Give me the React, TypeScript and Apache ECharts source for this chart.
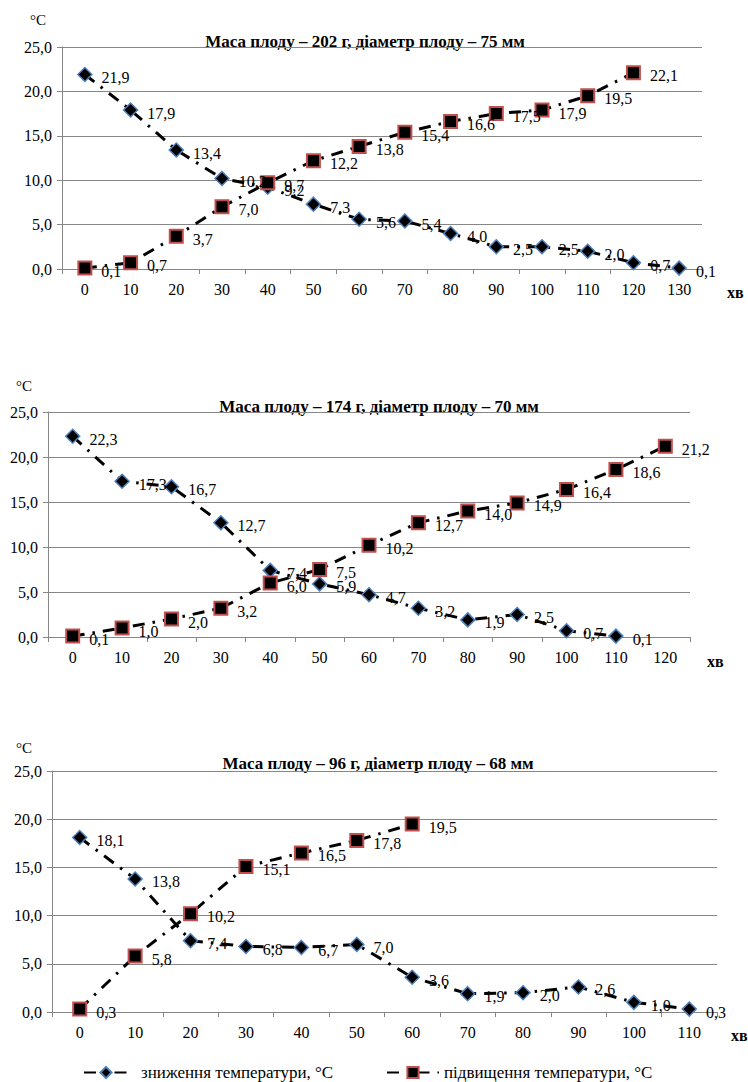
import React, { useEffect, useRef } from "react";
import * as echarts from "echarts";

const DEC = "зниження температури, °C";
const INC = "підвищення температури, °C";

const TITLES = [
  "Маса плоду – 202 г, діаметр плоду – 75 мм",
  "Маса плоду – 174 г, діаметр плоду – 70 мм",
  "Маса плоду – 96 г, діаметр плоду – 68 мм",
];

const X1 = ["0", "10", "20", "30", "40", "50", "60", "70", "80", "90", "100", "110", "120", "130"];
const DEC1 = [21.9, 17.9, 13.4, 10.2, 9.2, 7.3, 5.6, 5.4, 4.0, 2.5, 2.5, 2.0, 0.7, 0.1];
const INC1 = [0.1, 0.7, 3.7, 7.0, 9.7, 12.2, 13.8, 15.4, 16.6, 17.5, 17.9, 19.5, 22.1];

const X2 = ["0", "10", "20", "30", "40", "50", "60", "70", "80", "90", "100", "110", "120"];
const DEC2 = [22.3, 17.3, 16.7, 12.7, 7.4, 5.9, 4.7, 3.2, 1.9, 2.5, 0.7, 0.1];
const INC2 = [0.1, 1.0, 2.0, 3.2, 6.0, 7.5, 10.2, 12.7, 14.0, 14.9, 16.4, 18.6, 21.2];

const X3 = ["0", "10", "20", "30", "40", "50", "60", "70", "80", "90", "100", "110"];
const DEC3 = [18.1, 13.8, 7.4, 6.8, 6.7, 7.0, 3.6, 1.9, 2.0, 2.6, 1.0, 0.3];
const INC3 = [0.3, 5.8, 10.2, 15.1, 16.5, 17.8, 19.5];

const FONT = "Liberation Serif";
const fmt = (v: number) => v.toFixed(1).replace(".", ",");

const GRIDS = [
  { left: 62, top: 47, width: 640, height: 222 },
  { left: 48, top: 412, width: 642, height: 225 },
  { left: 52, top: 771, width: 665, height: 241 },
];

export default function App() {
  const ref = useRef<HTMLDivElement>(null);
  useEffect(() => {
    if (!ref.current) return;
    const chart = echarts.init(ref.current, null, { renderer: "svg" });
    const cats = [X1, X2, X3];
    const decs = [DEC1, DEC2, DEC3];
    const incs = [INC1, INC2, INC3];
    const axisColor = "#868686";
    const label = {
      show: true,
      position: "right" as const,
      distance: 9,
      offset: [0, 3],
      color: "#000",
      fontFamily: FONT,
      fontSize: 16,
      formatter: (p: any) => fmt(p.value),
    };
    const lineStyle = { color: "#000", width: 3, type: [12, 8, 2.5, 8] };
    const series: any[] = [];
    for (let i = 0; i < 3; i++) {
      series.push({
        type: "line",
        name: DEC,
        xAxisIndex: i,
        yAxisIndex: i,
        data: decs[i],
        symbol: "diamond",
        symbolSize: 14,
        itemStyle: { color: "#000", borderColor: "#4F81BD", borderWidth: 1.5 },
        lineStyle,
        label,
      });
      series.push({
        type: "line",
        name: INC,
        xAxisIndex: i,
        yAxisIndex: i,
        data: incs[i],
        symbol: "rect",
        symbolSize: 13,
        itemStyle: { color: "#000", borderColor: "#C0504D", borderWidth: 2 },
        lineStyle,
        label,
      });
    }
    const graphics: any[] = [];
    const titlePos = [
      [365, 41],
      [379, 406],
      [378, 763],
    ];
    const cPos = [
      [30, 20],
      [16, 386],
      [16, 748],
    ];
    const xbPos = [
      [727, 292],
      [707, 661],
      [731, 1035],
    ];
    for (let i = 0; i < 3; i++) {
      graphics.push({
        type: "text",
        x: titlePos[i][0],
        y: titlePos[i][1],
        style: {
          text: TITLES[i],
          fontFamily: FONT,
          fontSize: 17,
          fontWeight: "bold",
          fill: "#000",
          textAlign: "center",
          textVerticalAlign: "middle",
        },
      });
      graphics.push({
        type: "text",
        x: cPos[i][0],
        y: cPos[i][1],
        style: {
          text: "°C",
          fontFamily: FONT,
          fontSize: 15,
          fill: "#000",
          textAlign: "left",
          textVerticalAlign: "middle",
        },
      });
      graphics.push({
        type: "text",
        x: xbPos[i][0],
        y: xbPos[i][1],
        style: {
          text: "хв",
          fontFamily: FONT,
          fontSize: 16,
          fontWeight: "bold",
          fill: "#000",
          textAlign: "left",
          textVerticalAlign: "middle",
        },
      });
    }
    chart.setOption({
      animation: false,
      backgroundColor: "#fff",
      grid: GRIDS,
      xAxis: cats.map((c, i) => ({
        type: "category",
        gridIndex: i,
        data: c,
        boundaryGap: true,
        axisLine: { show: true, lineStyle: { color: axisColor, width: 1 } },
        axisTick: { show: true, length: 5, lineStyle: { color: axisColor } },
        axisLabel: { color: "#000", fontFamily: FONT, fontSize: 16, margin: 12 },
        splitLine: { show: false },
      })),
      yAxis: cats.map((_, i) => ({
        type: "value",
        gridIndex: i,
        min: 0,
        max: 25,
        interval: 5,
        axisLine: { show: true, lineStyle: { color: axisColor, width: 1 } },
        axisTick: { show: true, length: 5, lineStyle: { color: axisColor } },
        axisLabel: {
          color: "#000",
          fontFamily: FONT,
          fontSize: 16,
          margin: 10,
          formatter: (v: number) => fmt(v),
        },
        splitLine: { show: true, lineStyle: { color: axisColor, width: 1 } },
      })),
      legend: [
        {
          data: [DEC],
          left: 78,
          top: 1059,
          itemWidth: 44,
          itemHeight: 14,
          textStyle: { color: "#000", fontFamily: FONT, fontSize: 17, padding: [0, 0, 0, 8] },
          selectedMode: false,
        },
        {
          data: [INC],
          left: 381,
          top: 1059,
          itemWidth: 52,
          itemHeight: 14,
          textStyle: { color: "#000", fontFamily: FONT, fontSize: 17 },
          selectedMode: false,
        },
      ],
      graphic: graphics,
      series,
    });
    return () => chart.dispose();
  }, []);
  return (
    <div
      ref={ref}
      style={{ position: "fixed", left: 0, top: 0, width: 748, height: 1082, background: "#fff" }}
    />
  );
}
